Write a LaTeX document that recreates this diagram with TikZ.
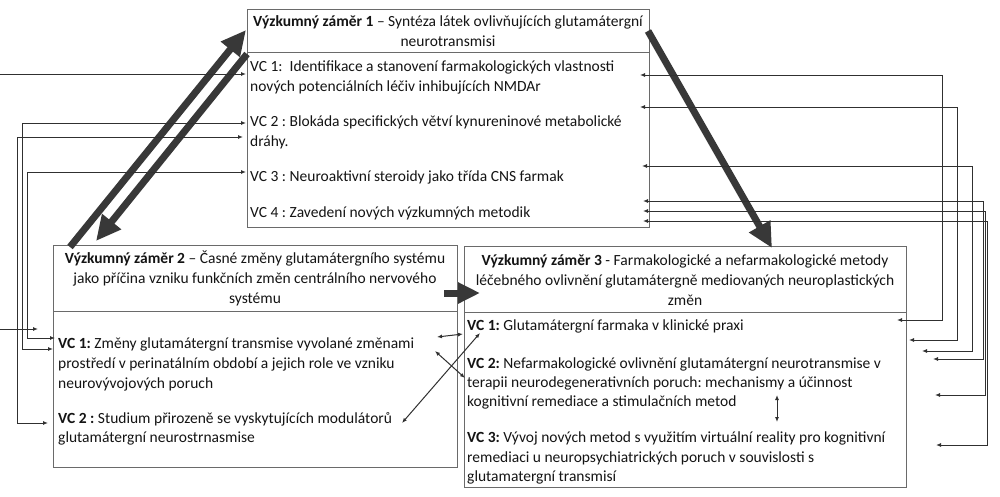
\documentclass[tikz,border=0pt]{standalone}
\usepackage{fontspec}
\setmainfont{Carlito}
\frenchspacing
\usetikzlibrary{arrows.meta}
\definecolor{boxc}{HTML}{6A6A6A}
\definecolor{linec}{HTML}{303030}
\definecolor{thickc}{HTML}{383838}
\definecolor{txtc}{HTML}{141414}
\tikzset{
  box/.style={draw=boxc, line width=1pt, inner sep=0, anchor=north west},
  sep/.style={draw=boxc, line width=1pt},
  lt/.style={anchor=base west, inner sep=0, text=txtc, font=\fontsize{15.5}{18}\selectfont},
  ct/.style={anchor=base, inner sep=0, text=txtc, font=\fontsize{15.5}{18}\selectfont},
  conn/.style={draw=linec, line width=1pt, {Latex[length=5pt,width=4pt]}-{Latex[length=5pt,width=4pt]}},
  conn1/.style={draw=linec, line width=1pt, -{Latex[length=5pt,width=4pt]}},
  big/.style={draw=thickc, line width=7pt, -{Triangle[width=23pt,length=25pt]}},
}
\begin{document}
\begin{tikzpicture}[x=1pt,y=-1pt]
\useasboundingbox (0,0) rectangle (1000,496);
\fill[white] (0,0) rectangle (1000,496);

% boxes
\node[box, minimum width=402pt, minimum height=218pt] (b1) at (247,9) {};
\node[box, minimum width=404pt, minimum height=222pt] (b2) at (53,245) {};
\node[box, minimum width=442pt, minimum height=241pt] (b3) at (464,246) {};
\coordinate (s1a) at (247,52); \coordinate (s1b) at (649,52);
\coordinate (s2a) at (53,311); \coordinate (s2b) at (457,311);
\coordinate (s3a) at (464,312); \coordinate (s3b) at (906,312);
\draw[sep] (s1a) -- (s1b);
\draw[sep] (s2a) -- (s2b);
\draw[sep] (s3a) -- (s3b);

% box 1 text
\node[ct] (h1a) at (448,26) {\textbf{Výzkumný záměr 1} – Syntéza látek ovlivňujících glutamátergní};
\node[ct] (h1b) at (448,46) {neurotransmisi};
\node[lt] (t11) at (250,71) {VC 1:\ \ Identifikace a stanovení farmakologických vlastnosti};
\node[lt] (t12) at (250,91) {nových potenciálních léčiv inhibujících NMDAr};
\node[lt] (t13) at (250,126) {VC 2 : Blokáda specifických větví kynureninové metabolické};
\node[lt] (t14) at (250,146) {dráhy.};
\node[lt] (t15) at (250,181) {VC 3 : Neuroaktivní steroidy jako třída CNS farmak};
\node[lt] (t16) at (250,217) {VC 4 : Zavedení nových výzkumných metodik};

% box 2 text
\node[ct] (h2a) at (255,263) {\textbf{Výzkumný záměr 2} – Časné změny glutamátergního systému};
\node[ct] (h2b) at (255,283) {jako příčina vzniku funkčních změn centrálního nervového};
\node[ct] (h2c) at (255,303) {systému};
\node[lt] (t21) at (58,348) {\textbf{VC 1:} Změny glutamátergní transmise vyvolané změnami};
\node[lt] (t22) at (58,368) {prostředí v perinatálním období a jejich role ve vzniku};
\node[lt] (t23) at (58,388) {neurovývojových poruch};
\node[lt] (t24) at (58,423) {\textbf{VC 2 :} Studium přirozeně se vyskytujících modulátorů};
\node[lt] (t25) at (58,442) {glutamátergní neurostrnasmise};

% box 3 text
\node[ct] (h3a) at (685,265) {\textbf{Výzkumný záměr 3} - Farmakologické a nefarmakologické metody};
\node[ct] (h3b) at (685,285) {léčebného ovlivnění glutamátergně mediovaných neuroplastických};
\node[ct] (h3c) at (685,305) {změn};
\node[lt] (t31) at (467,330) {\textbf{VC 1:} Glutamátergní farmaka v klinické praxi};
\node[lt] (t32) at (467,368) {\textbf{VC 2:} Nefarmakologické ovlivnění glutamátergní neurotransmise v};
\node[lt] (t33) at (467,387) {terapii neurodegenerativních poruch: mechanismy a účinnost};
\node[lt] (t34) at (467,406) {kognitivní remediace a stimulačních metod};
\node[lt] (t35) at (467,442) {\textbf{VC 3:} Vývoj nových metod s využitím virtuální reality pro kognitivní};
\node[lt] (t36) at (467,462) {remediaci u neuropsychiatrických poruch v souvislosti s};
\node[lt] (t37) at (467,481) {glutamatergní transmisí};

% thick arrows
\coordinate (A0) at (70,247); \coordinate (A1) at (246,30);
\coordinate (B0) at (247,54); \coordinate (B1) at (96,241);
\coordinate (C0) at (648,31); \coordinate (C1) at (772,248);
\coordinate (D0) at (444,293); \coordinate (D1) at (480,293);
\draw[big] (A0) -- (A1);
\draw[big] (B0) -- (B1);
\draw[big] (C0) -- (C1);
\draw[big, -{Triangle[width=20pt,length=22pt]}] (D0) -- (D1);

% left connectors
\coordinate (L0a) at (0,74); \coordinate (L0b) at (246,74);
\draw[conn1] (L0a) -- (L0b);
\coordinate (L1a) at (0,329); \coordinate (L1b) at (38,329);
\draw[conn1] (L1a) -- (L1b);
\coordinate (L2a) at (246,123); \coordinate (L2b) at (53,349);
\draw[conn] (L2a) -- (22,123) |- (L2b);
\coordinate (L3a) at (243,137); \coordinate (L3b) at (48,423);
\draw[conn] (L3a) -- (17,137) |- (L3b);
\coordinate (L4a) at (246,172); \coordinate (L4b) at (55,338);
\draw[conn] (L4a) -- (27,172) |- (L4b);

% right connectors
\coordinate (R1a) at (640,75);  \coordinate (R1b) at (897,320);
\coordinate (R2a) at (640,107); \coordinate (R2b) at (909,340);
\coordinate (R3a) at (642,166); \coordinate (R3b) at (922,351);
\coordinate (R4a) at (643,201); \coordinate (R4b) at (933,359);
\coordinate (R5a) at (643,211); \coordinate (R5b) at (935,395);
\coordinate (R6a) at (643,221); \coordinate (R6b) at (936,445);
\draw[conn] (R1a) -- (942,75) |- (R1b);
\draw[conn] (R2a) -- (957,107) |- (R2b);
\draw[conn] (R3a) -- (972,166) |- (R3b);
\draw[conn] (R4a) -- (983.5,201) |- (R4b);
\draw[conn] (R5a) -- (985.5,211) |- (R5b);
\draw[conn] (R6a) -- (987.5,221) |- (R6b);

% centre connectors
\coordinate (M1a) at (437,337); \coordinate (M1b) at (463,334);
\coordinate (M2a) at (435,351); \coordinate (M2b) at (465,378);
\coordinate (M3a) at (480,333); \coordinate (M3b) at (402,423);
\coordinate (M4a) at (777,395); \coordinate (M4b) at (777,422);
\draw[conn] (M1a) -- (M1b);
\draw[conn] (M2a) -- (M2b);
\draw[conn] (M3a) -- (M3b);
\draw[conn] (M4a) -- (M4b);
\end{tikzpicture}
\end{document}
